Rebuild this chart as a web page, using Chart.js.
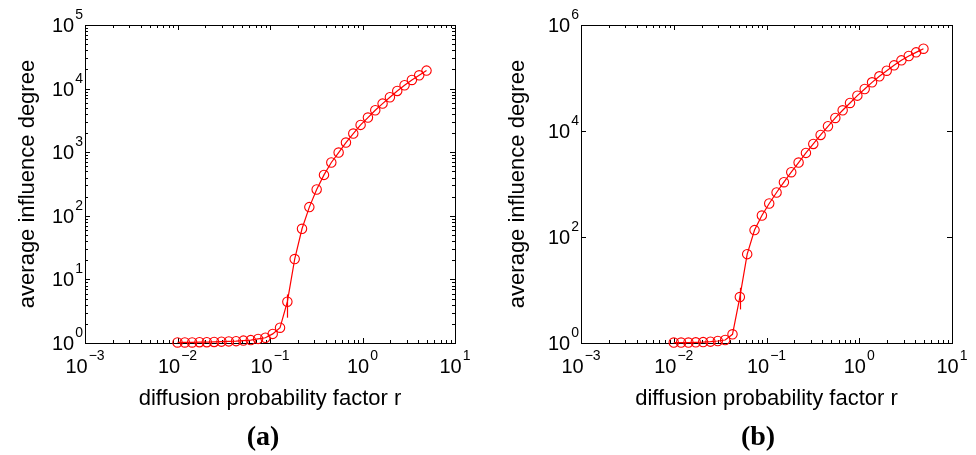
<!DOCTYPE html>
<html>
<head>
<meta charset="utf-8">
<script src="https://cdn.jsdelivr.net/npm/chart.js@4.4.0/dist/chart.umd.min.js"></script>
<style>
  body { margin: 0; background: #fff; width: 976px; height: 455px; overflow: hidden; position: relative; }
  .panel { position: absolute; top: 0; width: 488px; height: 455px; }
</style>
</head>
<body>
<div class="panel" style="left:0"><canvas id="chartA" width="488" height="455"></canvas></div>
<div class="panel" style="left:488px"><canvas id="chartB" width="488" height="455"></canvas></div>
<script>
// diffusion probability factor r (shared by both panels)
const rValues = [0.01, 0.012, 0.0144, 0.01728, 0.020736, 0.024883, 0.02986, 0.035832, 0.042998,
  0.051598, 0.061917, 0.074301, 0.089161, 0.106993, 0.128392, 0.15407, 0.184884, 0.221861,
  0.266233, 0.31948, 0.383376, 0.460051, 0.552061, 0.662474, 0.794968, 0.953962, 1.144755,
  1.373706, 1.648447, 1.978136, 2.373763, 2.848516, 3.418219, 4.101863, 4.922235];

// average influence degree, panel (a)
const influenceA = [1.02, 1.02, 1.02, 1.03, 1.03, 1.04, 1.05, 1.06, 1.07, 1.09, 1.11, 1.16, 1.21,
  1.39, 1.74, 4.46, 20.9, 62.5, 137, 259, 440, 689, 988, 1418, 1964, 2687, 3505, 4570, 5810,
  7310, 9190, 11280, 13670, 16190, 19180];

// average influence degree, panel (b)
const influenceB = [1.02, 1.02, 1.02, 1.03, 1.04, 1.06, 1.09, 1.14, 1.46, 7.36, 47.5, 135, 254,
  429, 691, 1081, 1668, 2539, 3864, 5705, 8433, 12280, 17630, 24590, 33810, 46470, 62050, 82850,
  107500, 137300, 173300, 215400, 259900, 304800, 357200];

// error bars (index into rValues, low, high)
const errIndexA = [15];
const errLowA = [2.5];
const errHighA = [5.8];
const errIndexB = [9];
const errLowB = [4.3];
const errHighB = [11];

// tick exponents
const xTickExps = [-3, -2, -1, 0, 1];
const yTickExpsA = [0, 1, 2, 3, 4, 5];
const yTickExpsB = [0, 2, 4, 6];

const SANS = '"Liberation Sans", Arial, Helvetica, sans-serif';

function drawPow(ctx, exp, x, baseY, mode) {
  const main = '10';
  const sup = exp < 0 ? '\u2212' + Math.abs(exp) : String(exp);
  ctx.font = '20px ' + SANS;
  const wMain = ctx.measureText(main).width;
  ctx.font = '14px ' + SANS;
  const wSup = ctx.measureText(sup).width;
  const total = wMain + wSup + 1;
  let start = mode === 'center' ? x - total / 2 : x - total;
  ctx.textAlign = 'left';
  ctx.textBaseline = 'alphabetic';
  ctx.font = '20px ' + SANS;
  ctx.fillText(main, start, baseY);
  ctx.font = '14px ' + SANS;
  ctx.fillText(sup, start + wMain + 1, baseY - 13);
}

// frame, inside ticks on all four sides, tick labels, axis titles, error bars
const axesPlugin = {
  id: 'matlabAxes',
  beforeDatasetsDraw(chart) {
    const ctx = chart.ctx;
    const a = chart.chartArea;
    const xs = chart.scales.x, ys = chart.scales.y;
    const cfg = chart.options.plugins.matlabAxes;
    ctx.save();
    ctx.strokeStyle = '#000';
    ctx.lineWidth = 1;
    ctx.strokeRect(Math.round(a.left) + 0.5, Math.round(a.top) + 0.5,
      Math.round(a.right - a.left), Math.round(a.bottom - a.top));
    ctx.beginPath();
    // x ticks
    for (let e = -3; e < 1; e++) {
      for (let m = 1; m <= 10; m++) {
        const v = m * Math.pow(10, e);
        const px = Math.round(xs.getPixelForValue(v)) + 0.5;
        const len = (m === 1 || m === 10) ? 5 : 3;
        ctx.moveTo(px, a.bottom); ctx.lineTo(px, a.bottom - len);
        ctx.moveTo(px, a.top); ctx.lineTo(px, a.top + len);
      }
    }
    // y ticks
    const yTop = Math.round(Math.log10(ys.max));
    for (let e = 0; e <= yTop; e++) {
      const isMajor = cfg.yTicks.includes(e);
      const py = Math.round(ys.getPixelForValue(Math.pow(10, e))) + 0.5;
      if (isMajor || cfg.yMinor) {
        const len = isMajor ? 5 : 3;
        ctx.moveTo(a.left, py); ctx.lineTo(a.left + len, py);
        ctx.moveTo(a.right, py); ctx.lineTo(a.right - len, py);
      }
      if (cfg.yMinor && e < yTop) {
        for (let m = 2; m <= 9; m++) {
          const pm = Math.round(ys.getPixelForValue(m * Math.pow(10, e))) + 0.5;
          ctx.moveTo(a.left, pm); ctx.lineTo(a.left + 3, pm);
          ctx.moveTo(a.right, pm); ctx.lineTo(a.right - 3, pm);
        }
      }
    }
    ctx.stroke();
    ctx.restore();
  },
  afterDraw(chart) {
    const ctx = chart.ctx;
    const a = chart.chartArea;
    const xs = chart.scales.x, ys = chart.scales.y;
    const cfg = chart.options.plugins.matlabAxes;
    ctx.save();
    ctx.fillStyle = '#000';
    xTickExps.forEach(e => drawPow(ctx, e, xs.getPixelForValue(Math.pow(10, e)), 373, 'center'));
    cfg.yTicks.forEach(e => drawPow(ctx, e, a.left - 2, ys.getPixelForValue(Math.pow(10, e)) + 7, 'right'));

    ctx.font = '22px ' + SANS;
    ctx.textAlign = 'center';
    ctx.textBaseline = 'alphabetic';
    ctx.fillText('diffusion probability factor r', (a.left + a.right) / 2, 405);
    ctx.save();
    ctx.translate(cfg.titleX, (a.top + a.bottom) / 2);
    ctx.rotate(-Math.PI / 2);
    ctx.fillText('average influence degree', 0, 0);
    ctx.restore();

    ctx.font = 'bold 28px "Liberation Serif", "Times New Roman", serif';
    ctx.fillText(cfg.caption, cfg.captionX, 445);

    // error bars
    ctx.strokeStyle = '#ff0000';
    ctx.lineWidth = 1.2;
    ctx.beginPath();
    cfg.errIndex.forEach((k, i) => {
      const px = Math.round(xs.getPixelForValue(rValues[k])) + 0.5;
      ctx.moveTo(px, ys.getPixelForValue(cfg.errLow[i]));
      ctx.lineTo(px, ys.getPixelForValue(cfg.errHigh[i]));
    });
    ctx.stroke();
    ctx.restore();
  }
};

function makePanel(id, values, yMax, yTicks, yMinor, pad, titleX, caption, captionX, errIndex, errLow, errHigh) {
  return new Chart(document.getElementById(id), {
    type: 'line',
    data: {
      datasets: [{
        data: rValues.map((r, i) => ({ x: r, y: values[i] })),
        borderColor: '#ff0000',
        borderWidth: 1.2,
        pointStyle: 'circle',
        pointRadius: 4.7,
        pointBorderWidth: 1.1,
        pointBorderColor: '#ff0000',
        pointBackgroundColor: 'rgba(0,0,0,0)',
        tension: 0,
        clip: false
      }]
    },
    options: {
      responsive: false,
      animation: false,
      devicePixelRatio: 1,
      layout: { padding: pad },
      scales: {
        x: { type: 'logarithmic', min: 0.001, max: 10, display: false },
        y: { type: 'logarithmic', min: 1, max: yMax, display: false }
      },
      plugins: {
        legend: { display: false },
        tooltip: { enabled: false },
        matlabAxes: { yTicks, yMinor, titleX, caption, captionX, errIndex, errLow, errHigh }
      }
    },
    plugins: [axesPlugin]
  });
}

makePanel('chartA', influenceA, 1e5, yTickExpsA, true,
  { left: 85, right: 33, top: 25, bottom: 112 }, 34, '(a)', 263, errIndexA, errLowA, errHighA);
makePanel('chartB', influenceB, 1e6, yTickExpsB, false,
  { left: 93, right: 24, top: 25, bottom: 112 }, 36, '(b)', 270, errIndexB, errLowB, errHighB);
</script>
</body>
</html>
